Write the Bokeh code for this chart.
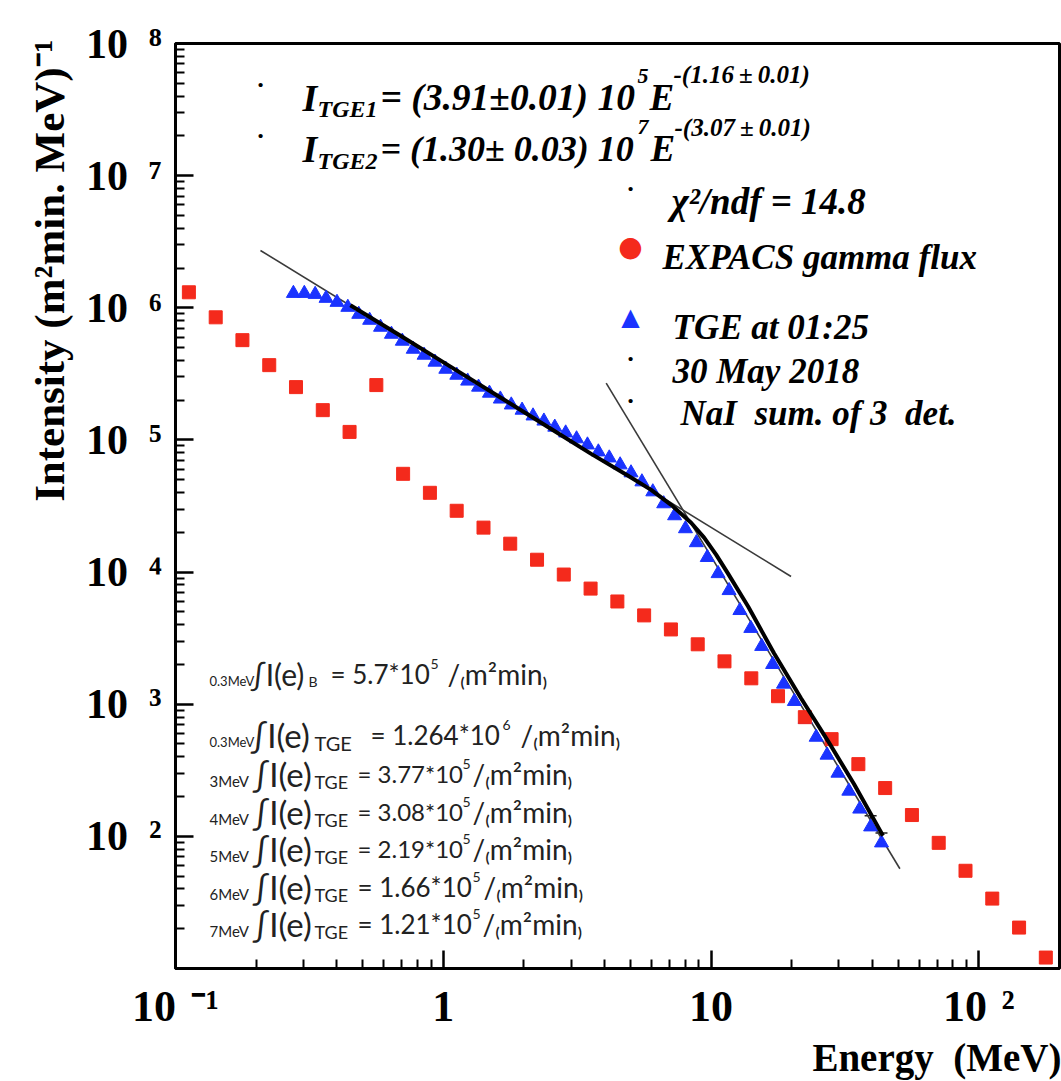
import math
from bokeh.plotting import figure
from bokeh.models import Label, FixedTicker, Range1d, ColumnDataSource, Whisker, TeeHead, Title
from bokeh.embed import file_html
from bokeh.resources import INLINE

# ---------------- data ----------------
# EXPACS background gamma flux (red squares)
expacs_energy = [0.1122, 0.1413, 0.1778, 0.2239, 0.2818, 0.3548, 0.4467, 0.5623, 0.7079, 0.8913,
                 1.122, 1.413, 1.778, 2.239, 2.818, 3.548, 4.467, 5.623, 7.079, 8.913,
                 11.22, 14.13, 17.78, 22.39, 28.18, 35.48, 44.67, 56.23, 70.79, 89.13,
                 112.2, 141.3, 177.8]
expacs_flux = [1.31e6, 8.47e5, 5.69e5, 3.68e5, 2.51e5, 1.68e5, 1.15e5, 2.60e5, 5.54e4, 3.98e4,
               2.91e4, 2.17e4, 1.64e4, 1.24e4, 9.58e3, 7.50e3, 5.99e3, 4.70e3, 3.68e3, 2.84e3,
               2.11e3, 1.57e3, 1.15e3, 798, 544, 352, 232, 145, 89.3, 54.9,
               33.8, 20.4, 12.1]

# TGE at 01:25, 30 May 2018 (blue triangles)
tge_energy = [0.2756, 0.3027, 0.3323, 0.3649, 0.4009, 0.4401, 0.4834, 0.5309, 0.5829, 0.6403,
              0.7031, 0.7722, 0.8480, 0.9311, 1.022, 1.123, 1.233, 1.354, 1.487, 1.633,
              1.794, 1.969, 2.163, 2.375, 2.608, 2.864, 3.145, 3.454, 3.793, 4.166,
              4.574, 5.023, 5.517, 6.058, 6.653, 7.306, 8.022, 8.811, 9.676, 10.62,
              11.67, 12.81, 14.07, 15.45, 16.97, 18.64, 20.46, 22.47, 24.68, 27.10,
              29.76, 32.68, 35.89, 39.42, 43.28]
tge_flux = [1.286e6, 1.286e6, 1.264e6, 1.180e6, 1.100e6, 1.009e6, 8.93e5, 8.05e5, 7.13e5, 6.31e5,
            5.59e5, 4.86e5, 4.38e5, 3.88e5, 3.43e5, 3.09e5, 2.79e5, 2.51e5, 2.26e5, 2.04e5,
            1.84e5, 1.68e5, 1.52e5, 1.39e5, 1.25e5, 1.13e5, 1.02e5, 9.17e4, 8.12e4, 7.31e4,
            6.48e4, 5.64e4, 4.82e4, 4.05e4, 3.29e4, 2.67e4, 2.13e4, 1.67e4, 1.29e4, 9.74e3,
            7.25e3, 5.12e3, 3.75e3, 2.74e3, 2.00e3, 1.42e3, 1.05e3, 770, 563, 412,
            301, 220, 161, 118, 89.3]
# upper error caps visible on the last points
err_energy = [39.42, 43.28]
err_low = [118, 89.3]
err_up = [143, 106]

# overall fit (thick black curve)
fit_energy = [0.4498, 0.6973, 1.071, 1.646, 2.529, 3.566, 4.901, 5.972, 7.091, 8.422,
              9.417, 10.44, 11.57, 13.75, 17.18, 21.67, 27.33, 34.17, 43.84]
fit_flux = [1.044e6, 6.09e5, 3.556e5, 2.075e5, 1.211e5, 7.84e4, 5.35e4, 4.19e4, 3.23e4, 2.364e4,
            1.821e4, 1.356e4, 9.74e3, 5.49e3, 2.43e3, 1.11e3, 526, 249, 100.9]

# the two power-law fits (thin lines)
fit1_energy = [0.2076, 19.89]
fit1_flux = [2.716e6, 9.25e3]
fit2_energy = [4.058, 50.7]
fit2_flux = [2.69e5, 56.9]

# axes
x_ticks = [0.1, 1, 10, 100]
x_tick_labels = ["10\u2004\u207b\u00b9", "1", "10", "10\u2004\u00b2"]
y_ticks = [1e2, 1e3, 1e4, 1e5, 1e6, 1e7, 1e8]
y_tick_labels = ["10\u2002\u00b2", "10\u2002\u00b3", "10\u2002\u2074", "10\u2002\u2075",
                 "10\u2002\u2076", "10\u2002\u2077", "10\u2002\u2078"]
X_MIN, X_MAX = 0.1, 200
Y_MIN, Y_MAX = 10, 1e8

# text block (bottom left)
block_prefix = ["0.3MeV", "0.3MeV", "3MeV", "4MeV", "5MeV", "6MeV", "7MeV"]
block_sub = ["B", "TGE", "TGE", "TGE", "TGE", "TGE", "TGE"]
block_value = ["= 5.7*10", "= 1.264*10", "= 3.77*10", "= 3.08*10", "= 2.19*10", "= 1.66*10", "= 1.21*10"]
block_exp = ["5", "6", "5", "5", "5", "5", "5"]

# ---------------- figure ----------------
FL, FT = 175, 43
SERIF = "Liberation Serif"
p = figure(width=1061, height=1081, x_axis_type="log", y_axis_type="log",
           x_range=Range1d(X_MIN, X_MAX), y_range=Range1d(Y_MIN, Y_MAX),
           output_backend="svg", toolbar_location=None,
           min_border_left=FL, min_border_right=2, min_border_top=FT, min_border_bottom=113)
p.grid.visible = False
p.background_fill_color = "white"
p.border_fill_color = "white"
p.outline_line_color = "black"
p.outline_line_width = 3

xminor = [m * d for d in (0.1, 1, 10, 100) for m in range(2, 10) if m * d <= X_MAX]
yminor = [m * d for d in (10, 1e2, 1e3, 1e4, 1e5, 1e6, 1e7) for m in range(2, 10)]
p.xaxis.ticker = FixedTicker(ticks=x_ticks, minor_ticks=xminor)
p.yaxis.ticker = FixedTicker(ticks=y_ticks, minor_ticks=yminor)
p.xaxis.major_label_overrides = {t: l for t, l in zip(x_ticks, x_tick_labels)}
p.yaxis.major_label_overrides = {t: l for t, l in zip(y_ticks, y_tick_labels)}

for ax in (p.xaxis[0], p.yaxis[0]):
    ax.axis_line_width = 3
    ax.axis_line_color = "black"
    ax.major_tick_in = 18
    ax.major_tick_out = 0
    ax.minor_tick_in = 9
    ax.minor_tick_out = 0
    ax.major_tick_line_width = 2.5
    ax.minor_tick_line_width = 2
    ax.major_tick_line_color = "black"
    ax.minor_tick_line_color = "black"
    ax.major_label_text_font = SERIF
    ax.major_label_text_font_style = "bold"
    ax.major_label_text_color = "black"
p.xaxis.major_label_text_font_size = "44px"
p.xaxis.major_label_standoff = 13
p.xaxis.major_label_text_line_height = 0.85
p.yaxis.major_label_text_font_size = "42px"
p.yaxis.major_label_standoff = 14

# axis titles as side-panel titles (not clipped to the frame)
ytitle = Title(text="Intensity (m\u00b2min. MeV)\u207b\u00b9", align="right", offset=-4,
               text_font=SERIF, text_font_style="bold", text_font_size="43px",
               text_color="black", standoff=20)
p.add_layout(ytitle, "left")
xtitle = Title(text="Energy\u2002(MeV)", align="right", offset=-2,
               text_font=SERIF, text_font_style="bold", text_font_size="39px",
               text_color="black", standoff=0)
p.add_layout(xtitle, "below")

# ---------------- glyphs ----------------
p.line(fit1_energy, fit1_flux, line_color="#3a3a3a", line_width=1.6)
p.line(fit2_energy, fit2_flux, line_color="#3a3a3a", line_width=1.6)
p.scatter(tge_energy, tge_flux, marker="triangle", size=14, fill_color="#1a33ff",
          line_color="#1a33ff")
errsrc = ColumnDataSource(dict(base=err_energy, lower=err_low, upper=err_up))
p.add_layout(Whisker(source=errsrc, base="base", lower="lower", upper="upper", dimension="height",
                     line_color="#222222", line_width=1.2,
                     upper_head=TeeHead(size=12, line_color="#222222", line_width=1.5),
                     lower_head=None))
p.scatter(expacs_energy, expacs_flux, marker="square", size=13, fill_color="#f42a1c",
          line_color="#f42a1c")
p.line(fit_energy, fit_flux, line_color="black", line_width=4)


# ---------------- texts inside the frame ----------------
def put(px, py, txt, size, font=SERIF, style="bold italic", color="black",
        align="left", baseline="alphabetic"):
    p.add_layout(Label(x=X_MIN, y=Y_MAX, x_offset=px - FL, y_offset=FT - py, text=txt,
                       text_font=font, text_font_style=style, text_font_size=f"{size}px",
                       text_color=color, text_align=align, text_baseline=baseline))


def dot(px, py):
    put(px, py, "\u00b7", 26, style="bold", align="center", baseline="middle")


# fit formulas
dot(260, 84)
put(302, 97, "I", 38)
put(317, 108, "TGE1", 24)
put(380, 97, "= (3.91\u00b10.01) 10", 37.5)
put(637, 75, "5", 22)
put(649, 97, "E", 37)
put(673, 74, "-(1.16\u2009\u00b1\u20090.01)", 25)

dot(260, 135)
put(302, 148, "I", 38)
put(317, 160, "TGE2", 24)
put(380, 148, "= (1.30\u00b1 0.03) 10", 36)
put(637, 126, "7", 22)
put(650, 148, "E", 37)
put(674, 127, "-(3.07\u2009\u00b1\u20090.01)", 25)

dot(630, 188)
put(671, 201, "\u03c7\u00b2/ndf = 14.8", 37)

# legend-like entries
put(630, 246, "\u25cf", 28, font="DejaVu Sans", style="normal", color="#f42a1c",
    align="center", baseline="middle")
put(662, 257, "EXPACS gamma flux", 35)
put(630, 316, "\u25b2", 24, font="DejaVu Sans", style="normal", color="#1a33ff",
    align="center", baseline="middle")
put(672, 327, "TGE at 01:25", 35)
dot(630, 358)
put(672, 371, "30 May 2018", 35)
dot(630, 400)
put(680, 413, "NaI\u00a0\u00a0sum. of 3\u00a0\u00a0det.", 35)

# integral block
SANS = "Lato"
INK = "#222222"
bases = [673, 734, 773, 811, 848, 886, 923]
int_x = [250, 250, 252, 252, 252, 252, 252]
int_size = [30, 33, 33, 33, 33, 33, 33]
sub_x = [308, 314, 314, 314, 314, 314, 314]
sub_size = [14, 20, 18, 18, 18, 18, 18]
val_x = [330, 370, 357, 357, 357, 357, 357]
val_size = [26, 26, 24, 24, 24, 26, 26]
exp_x = [430, 502, 462, 462, 462, 472, 472]
unit_x = [447, 520, 472, 472, 472, 483, 482]
for i in range(7):
    b = bases[i]
    put(209, b + 7, block_prefix[i], 13 if i < 2 else 15, font=SANS, style="normal", color=INK)
    put(int_x[i], b, "\u222bI(e)", int_size[i], font=SANS, style="normal", color=INK)
    put(sub_x[i], b + 8, block_sub[i], sub_size[i], font=SANS, style="normal", color=INK)
    put(val_x[i], b, block_value[i], val_size[i], font=SANS, style="normal", color=INK)
    put(exp_x[i], b - 10, block_exp[i], 14, font=SANS, style="normal", color=INK)
    put(unit_x[i], b, "/\u208dm\u00b2min\u208e", 28, font=SANS, style="normal", color=INK)

open("out.html", "w").write(file_html(p, INLINE))
